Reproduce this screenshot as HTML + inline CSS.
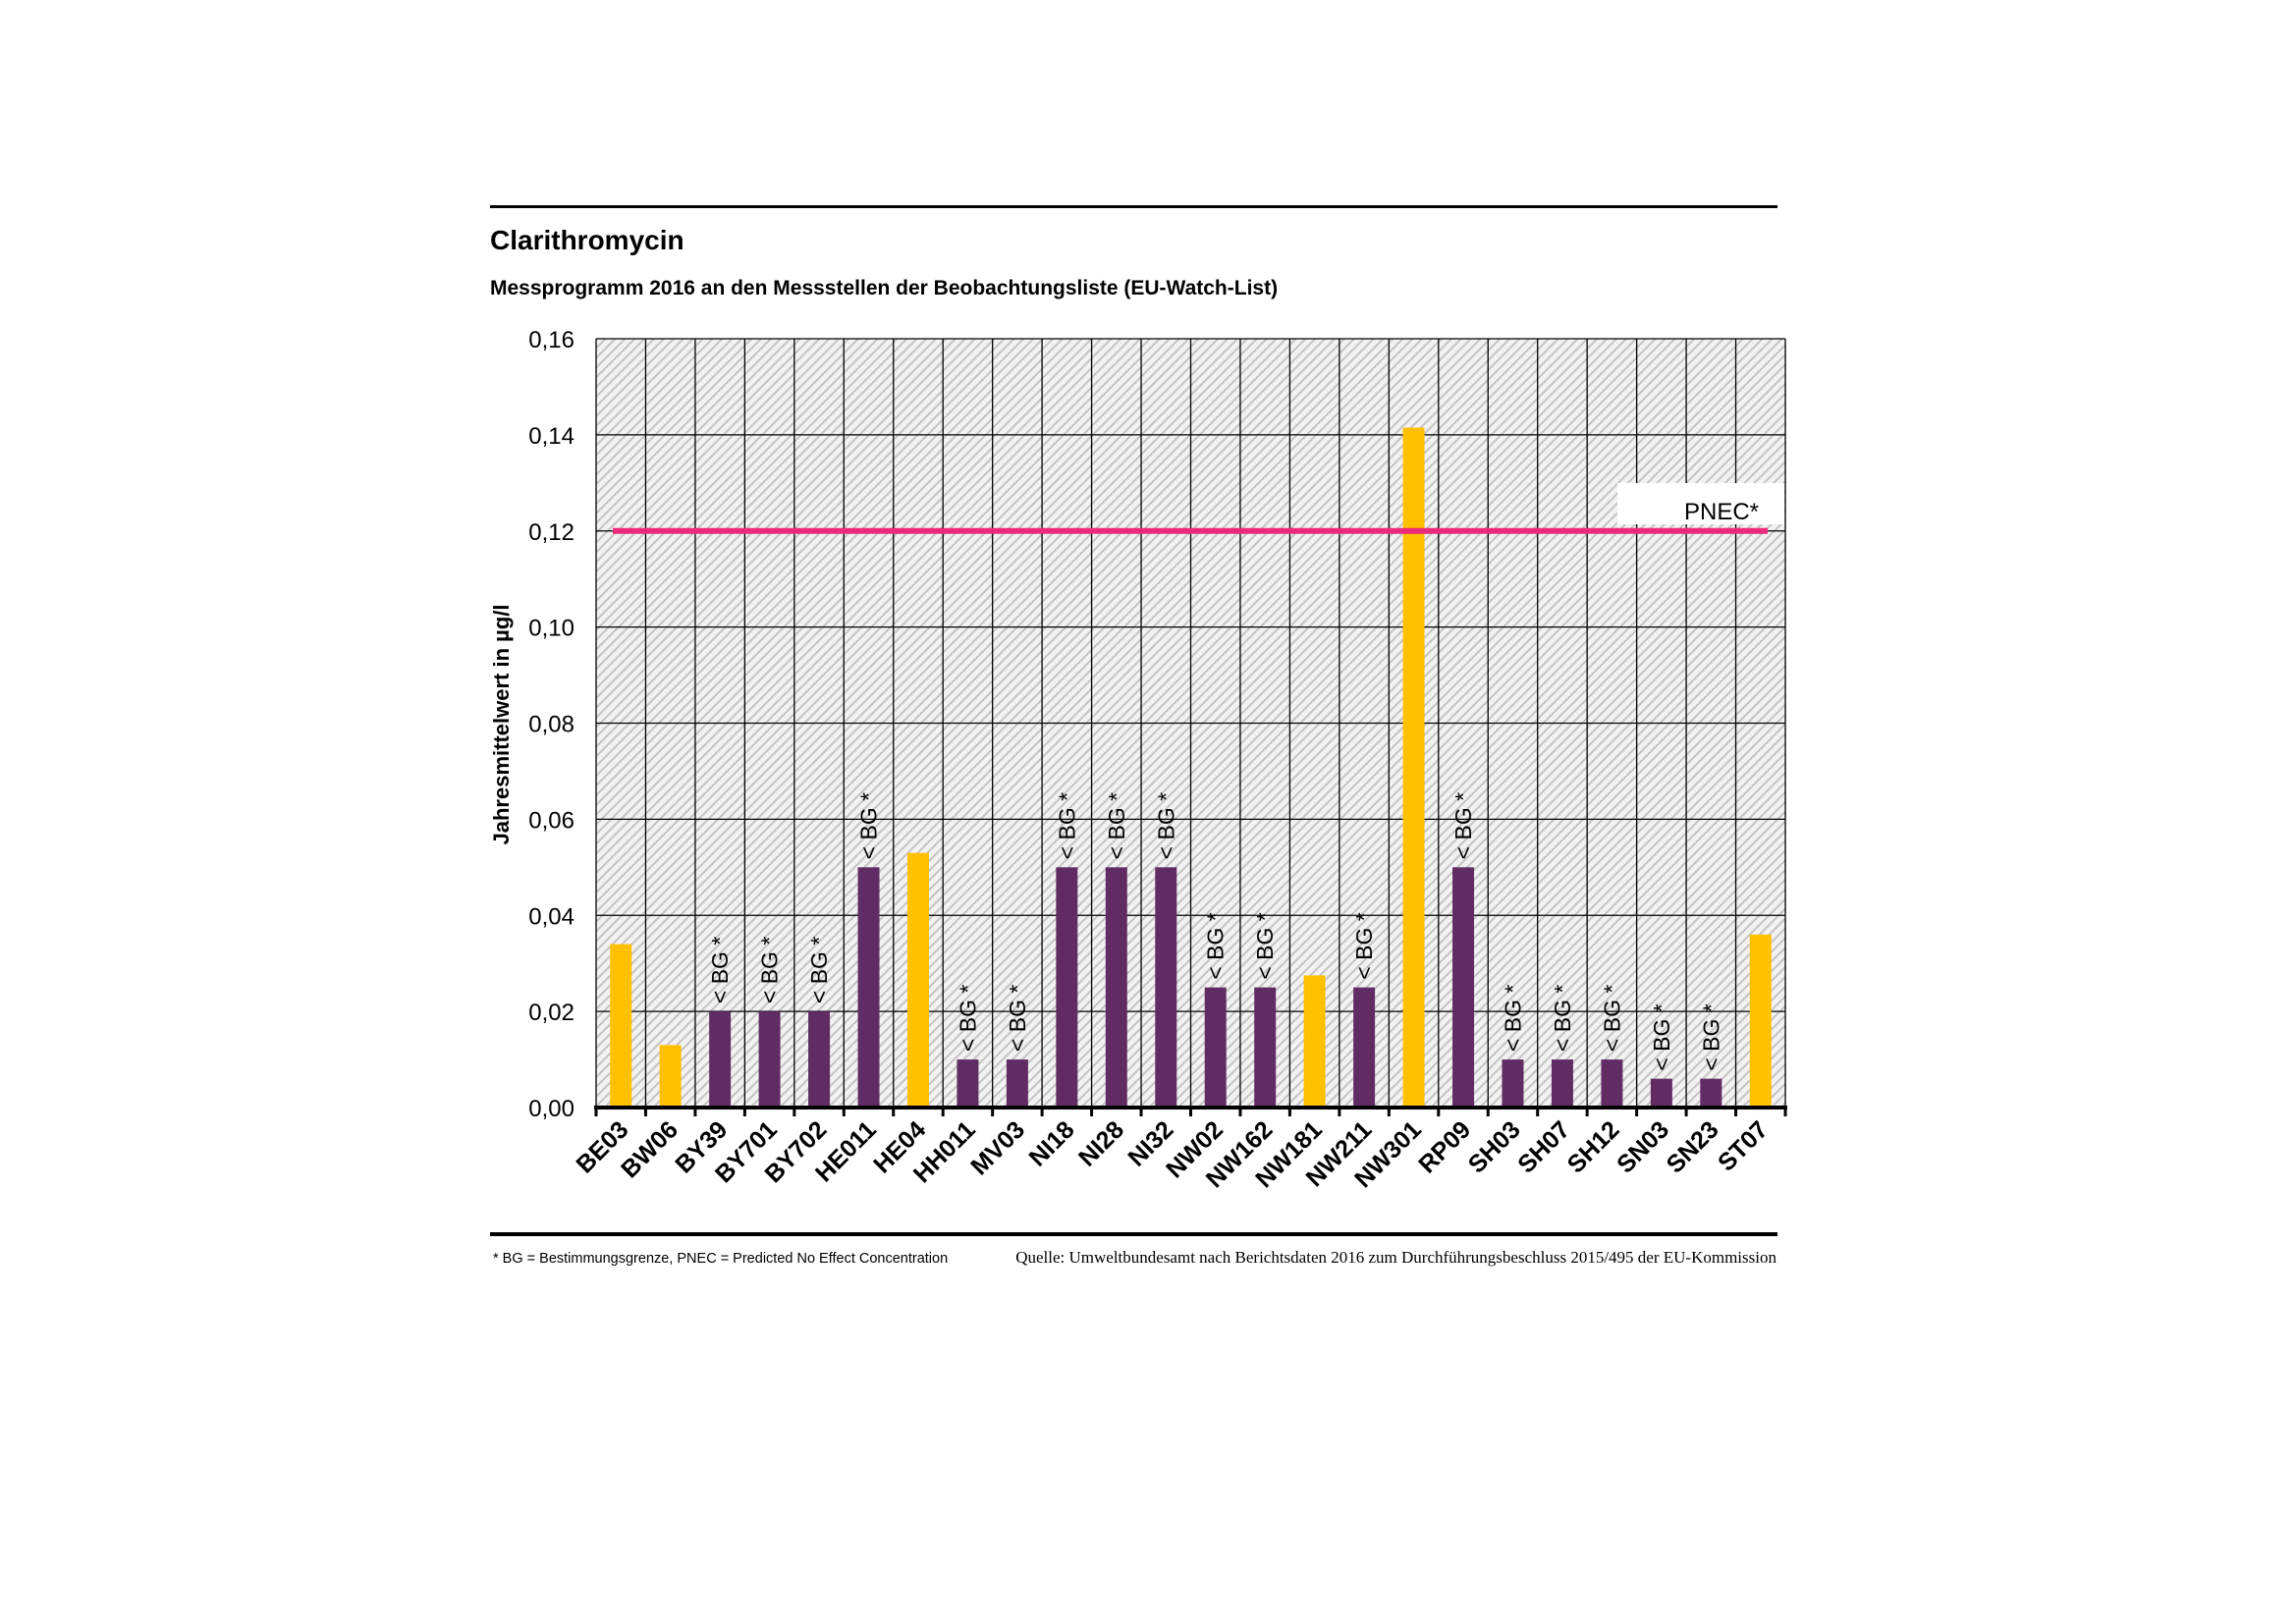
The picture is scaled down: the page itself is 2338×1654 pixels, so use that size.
<!DOCTYPE html>
<html><head><meta charset="utf-8"><style>
html,body{margin:0;padding:0;background:#fff;}
svg{display:block;font-family:"Liberation Sans",sans-serif;}
</style></head><body>
<svg width="2338" height="1654" viewBox="0 0 2338 1654" xmlns="http://www.w3.org/2000/svg">
<defs>
<pattern id="h" width="7" height="7" patternUnits="userSpaceOnUse" patternTransform="rotate(45)">
<rect width="7" height="7" fill="#f2f2f2"/>
<rect x="0" y="0" width="2" height="7" fill="#c4c4c4"/>
</pattern>
</defs>
<rect x="499" y="209" width="1311" height="3" fill="#000"/>
<text x="499" y="254" font-size="28" font-weight="bold">Clarithromycin</text>
<text x="499" y="300" font-size="21" font-weight="bold">Messprogramm 2016 an den Messstellen der Beobachtungsliste (EU-Watch-List)</text>
<rect x="607" y="345" width="1211" height="783" fill="url(#h)"/>
<g id="grid" stroke="#000" stroke-width="1.3" fill="none"></g>
<g id="rest"></g>
<text x="1715" y="529" font-size="24">PNEC*</text>
<rect x="499" y="1255" width="1311" height="4" fill="#000"/>
<text x="502" y="1286" font-size="14.5">* BG = Bestimmungsgrenze, PNEC = Predicted No Effect Concentration</text>
<text x="1809" y="1286" font-size="17" text-anchor="end" font-family="Liberation Serif,serif">Quelle: Umweltbundesamt nach Berichtsdaten 2016 zum Durchführungsbeschluss 2015/495 der EU-Kommission</text>
</svg>
<script>
(function(){
var ns="http://www.w3.org/2000/svg";
var L=607,R=1818,T=345,B=1128,n=24,cw=(R-L)/n,step=(B-T)/8;
var g=document.getElementById("grid"),r=document.getElementById("rest");
function el(p,tag,a,txt){var e=document.createElementNS(ns,tag);for(var k in a)e.setAttribute(k,a[k]);if(txt)e.textContent=txt;p.appendChild(e);return e;}
for(var i=0;i<=n;i++){var x=L+i*cw;el(g,"line",{x1:x,y1:T,x2:x,y2:B});}
for(var j=0;j<=8;j++){var y=T+j*step;el(g,"line",{x1:L,y1:y,x2:R,y2:y});
el(r,"text",{x:585,y:y+9,"font-size":24,"text-anchor":"end"},(0.16-j*0.02).toFixed(2).replace(".",","));}
var d=[["BE03",.034,0],["BW06",.013,0],["BY39",.02,1],["BY701",.02,1],["BY702",.02,1],["HE011",.05,1],["HE04",.053,0],["HH011",.01,1],["MV03",.01,1],["NI18",.05,1],["NI28",.05,1],["NI32",.05,1],["NW02",.025,1],["NW162",.025,1],["NW181",.0275,0],["NW211",.025,1],["NW301",.1415,0],["RP09",.05,1],["SH03",.01,1],["SH07",.01,1],["SH12",.01,1],["SN03",.006,1],["SN23",.006,1],["ST07",.036,0]];
d.forEach(function(v,i){var cx=L+(i+.5)*cw,h=v[1]/0.02*step,top=B-h;
el(r,"rect",{x:cx-11,y:top,width:22,height:h,fill:v[2]?"#612C63":"#FFC000"});
if(v[2])el(r,"text",{x:0,y:0,"font-size":23,transform:"translate("+(cx+8)+","+(top-8)+") rotate(-90)"},"< BG *");
el(r,"text",{x:0,y:0,"font-size":25,"font-weight":"bold","text-anchor":"end",transform:"translate("+(cx+9)+","+(B+24)+") rotate(-45)"},v[0]);
});
el(r,"rect",{x:1647,y:492,width:170,height:42,fill:"#fff"});
el(r,"line",{x1:624,y1:T+2*step,x2:1800,y2:T+2*step,stroke:"#EC2A7B","stroke-width":6});
el(r,"rect",{x:L-2,y:B-2,width:R-L+4,height:4,fill:"#000"});
for(var i=0;i<=n;i++){var x=L+i*cw;el(r,"line",{x1:x,y1:B,x2:x,y2:B+9,stroke:"#000","stroke-width":3});}
el(r,"text",{x:0,y:0,"font-size":22,"font-weight":"bold","text-anchor":"middle",transform:"translate(518,738) rotate(-90)"},"Jahresmittelwert in µg/l");
})();
</script>
</body></html>
